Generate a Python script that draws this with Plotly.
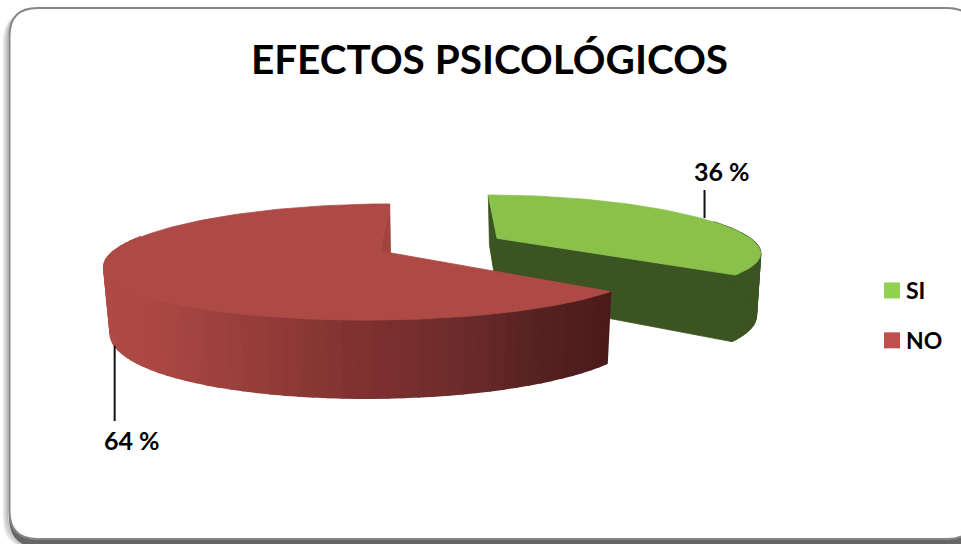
import numpy as np
import plotly.graph_objects as go

CATEGORIES = ["SI", "NO"]
VALUES = [36, 64]
TITLE = "EFECTOS PSICOLÓGICOS"

W, H = 961, 544
FONT = "Lato, Carlito, Calibri, sans-serif"

# perspective camera per slice (pixel space of the hidden axes)
CAM = {
    "SI": dict(cx=497.0, cy=238.3, R=253.0, s=-10.8, kx=0.24, ky=0.179, Hy=51.0, D=59.0),
    "NO": dict(cx=380.0, cy=251.0, R=266.0, s=11.9, kx=0.225, ky=0.19, Hy=56.0, D=63.0),
}
LEG_COL = {"SI": "#92d050", "NO": "#c0504d"}
TOP_COL = {"SI": "#89c14b", "NO": "#ae4a46"}


def proj(name, deg, low=False):
    c = CAM[name]
    t = np.radians(np.asarray(deg, dtype=float))
    u, v = np.sin(t), np.cos(t)
    x = (c["R"] * u + c["s"] * v) / (1 + c["kx"] * v)
    y = -c["Hy"] * v / (1 + c["ky"] * v)
    if low:
        x = x * 0.98 + 1
        y = y + c["D"] / (1 + c["ky"] * v)
    return c["cx"] + x, c["cy"] + y


def apex(name, low=False):
    c = CAM[name]
    return c["cx"] + (1 if low else 0), c["cy"] + (c["D"] if low else 0)


def poly(xs, ys, color, lw=0.8):
    return go.Scatter(
        x=list(xs) + [xs[0]], y=list(ys) + [ys[0]], mode="lines", fill="toself",
        fillcolor=color, line=dict(color=color, width=lw),
        hoverinfo="skip", showlegend=False,
    )


def lerp_color(stops, p):
    xs = [a for a, _ in stops]
    rgb = [np.interp(p, xs, [b[i] for _, b in stops]) for i in range(3)]
    return "rgb(%d,%d,%d)" % tuple(int(round(q)) for q in rgb)


fracs = np.cumsum([0] + VALUES) / sum(VALUES) * 360.0
SPAN = {n: (fracs[i], fracs[i + 1]) for i, n in enumerate(CATEGORIES)}

RED_WALL = [(100, (174, 74, 70)), (150, (172, 72, 68)), (250, (150, 62, 58)), (350, (128, 50, 48)),
            (450, (112, 44, 44)), (530, (88, 34, 34)), (611, (74, 27, 27))]
GREEN_DARK = "#3c5421"

fig = go.Figure()

# SI slice -------------------------------------------------------------
a0, a1 = SPAN["SI"]
tx0, ty0 = proj("SI", a0)
bx0, by0 = proj("SI", a0, True)
ax, ay = apex("SI")
lx, ly = apex("SI", True)
fig.add_trace(poly([tx0, ax, lx, bx0], [ty0, ay, ly, by0], GREEN_DARK))
ex, ey = proj("SI", a1)
fx, fy = proj("SI", a1, True)
fig.add_trace(poly([ax, ex, fx, lx], [ay, ey, fy, ly], GREEN_DARK))
edges = np.linspace(70, a1, 31)
for e0, e1 in zip(edges[:-1], edges[1:]):
    pair = [e0, e1]
    xt, yt = proj("SI", pair)
    xb, yb = proj("SI", pair, True)
    fig.add_trace(poly(list(xt) + list(xb[::-1]), list(yt) + list(yb[::-1]), GREEN_DARK, 1.5))
ang = np.linspace(a0, a1, 90)
xt, yt = proj("SI", ang)
fig.add_trace(poly([ax] + list(xt), [ay] + list(yt), TOP_COL["SI"]))

# NO slice -------------------------------------------------------------
a0, a1 = SPAN["NO"]
tx0, ty0 = proj("NO", a1)
ax, ay = apex("NO")
fig.add_trace(poly([tx0, ax, ax + 14, tx0 + 1], [ty0, ay, ay + 12, ty0 + 60], "#a24340"))
edges = np.linspace(a0, 285, 61)
for e0, e1 in zip(edges[:-1], edges[1:]):
    pair = [e0, e1]
    xt, yt = proj("NO", pair)
    xb, yb = proj("NO", pair, True)
    col = lerp_color(RED_WALL, float(np.mean(xt)))
    fig.add_trace(poly(list(xt) + list(xb[::-1]), list(yt) + list(yb[::-1]), col, 2))
ang = np.linspace(a0, a1, 180)
xt, yt = proj("NO", ang)
fig.add_trace(poly([ax] + list(xt), [ay] + list(yt), TOP_COL["NO"]))

# leader lines, anchored on each slice's mid angle ----------------------
annotations = []
for name, val in zip(CATEGORIES, VALUES):
    mid = sum(SPAN[name]) / 2
    low = name == "NO"
    px, py = proj(name, mid, low)
    if low:
        lx_, ly_ = float(px), 421.0
        tx_, ty_ = 131.5, 440
    else:
        lx_, ly_ = float(px) + 4, 190.0
        tx_, ty_ = 722, 171
        px = lx_
    fig.add_trace(go.Scatter(x=[float(px), lx_], y=[float(py), ly_], mode="lines",
                             line=dict(color="#111111", width=2),
                             hoverinfo="skip", showlegend=False))
    annotations.append(dict(x=tx_, y=ty_, xref="x", yref="y", text=f"<b>{val} %</b>", showarrow=False,
                            font=dict(family=FONT, size=25, color="#000000")))

# legend ----------------------------------------------------------------
for name in CATEGORIES:
    fig.add_trace(go.Scatter(
        x=[None], y=[None], mode="markers", name=f"<b>{name}</b>", legendgroup=name,
        marker=dict(symbol="square", size=16, color=LEG_COL[name]), showlegend=True,
    ))


# frame -----------------------------------------------------------------
def rrect(x0, y0, x1, y1, r):
    return (f"M{x0+r},{y0} L{x1-r},{y0} Q{x1},{y0} {x1},{y0+r} L{x1},{y1-r} Q{x1},{y1} {x1-r},{y1} "
            f"L{x0+r},{y1} Q{x0},{y1} {x0},{y1-r} L{x0},{y0+r} Q{x0},{y0} {x0+r},{y0} Z")


shapes = []
for i in range(6):
    shapes.append(dict(type="path", path=rrect(8 - i * 0.9, 12, 976 + i, 545 + i * 0.6, 30), xref="x", yref="y",
                       line=dict(color="rgba(0,0,0,%.3f)" % (0.14 - i * 0.02), width=2),
                       fillcolor="rgba(0,0,0,0)", layer="below"))
shapes.append(dict(type="path", path=rrect(9.5, 12, 976, 547, 30), xref="x", yref="y",
                   line=dict(color="#666666", width=1), fillcolor="#666666", layer="below"))
shapes.append(dict(type="path", path=rrect(9.5, 8, 975, 539, 28), xref="x", yref="y",
                   line=dict(color="#868686", width=2), fillcolor="#ffffff", layer="below"))

fig.update_layout(
    width=W, height=H, margin=dict(l=0, r=0, t=0, b=0),
    paper_bgcolor="#ffffff", plot_bgcolor="rgba(0,0,0,0)",
    title=dict(text=f"<b>{TITLE}</b>", x=489.5 / W, xanchor="center", y=1 - 60 / H, yanchor="middle",
               font=dict(family=FONT, size=40.5, color="#000000")),
    xaxis=dict(range=[0, W], visible=False, fixedrange=True),
    yaxis=dict(range=[H, 0], visible=False, fixedrange=True),
    legend=dict(x=872 / W, y=1 - 269 / H, xanchor="left", yanchor="top", tracegroupgap=17,
                font=dict(family=FONT, size=23, color="#000000"), bgcolor="rgba(0,0,0,0)",
                itemclick=False, itemdoubleclick=False),
    shapes=shapes, annotations=annotations, showlegend=True,
)

NUDGE = ("document.body.style.margin='0';document.documentElement.style.overflow='hidden';"
         "function nudge(){document.querySelectorAll('.legendtext').forEach(function(t){"
         "if(!t.dataset.n){t.dataset.n=1;t.setAttribute('x',parseFloat(t.getAttribute('x'))-6);}});}"
         "nudge();setTimeout(nudge,30);setTimeout(nudge,200);")
fig.write_html("out.html", config={"displayModeBar": False}, post_script=NUDGE)
